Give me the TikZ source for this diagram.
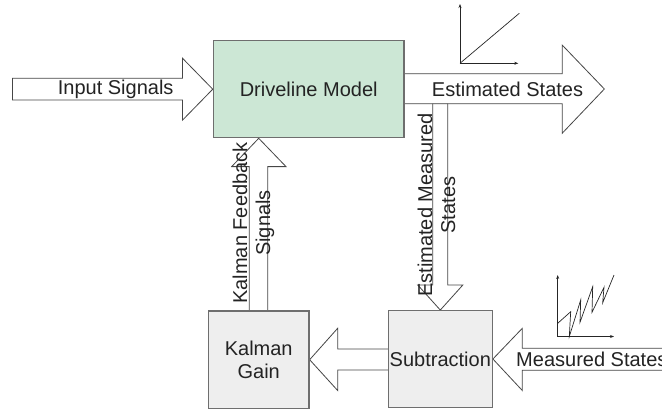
\documentclass[tikz,border=0pt]{standalone}
\usepackage{fontspec}
\setmainfont{Liberation Sans}
\usetikzlibrary{calc,arrows.meta}
\definecolor{drvfill}{RGB}{204,231,213}
\definecolor{boxfill}{RGB}{238,238,238}
\definecolor{boxline}{RGB}{110,110,110}
\definecolor{arrline}{RGB}{70,70,70}
\definecolor{txt}{RGB}{35,35,35}
\begin{document}
\begin{tikzpicture}[x=1pt,y=-1pt,
  every node/.style={font=\fontsize{20}{23}\selectfont, text=txt},
  block/.style={draw=boxline, line width=1.2pt, inner sep=0pt, align=center},
  barrow/.style={draw=arrline, fill=white, line width=0.8pt, line join=miter},
  axis/.style={draw=black!85, line width=0.7pt, -{Stealth[length=4pt,width=3pt]}},
  curve/.style={draw=black!85, line width=0.7pt}]
\useasboundingbox (0,0) rectangle (662,410);

% boxes (positions used by the block arrows)
\path (308.7,89.2) node[block, fill=drvfill, minimum width=190.7pt, minimum height=97pt] (drive) {};
\path (258.7,359.7) node[block, fill=boxfill, minimum width=100.7pt, minimum height=97.3pt] (kal) {};
\path (440.3,359) node[block, fill=boxfill, minimum width=104pt, minimum height=96.7pt] (sub) {};

% block arrows
\draw[barrow] (sub.north) -- ++(22.5,-25) -- ++(-15,0) -- ++(0,-182) -- ++(-15,0) -- ++(0,182) -- ++(-15,0) -- cycle;
\draw[barrow] (drive.west) -- ++(-30.3,-31) -- ++(0,20) -- ++(-170,0) -- ++(0,21.7) -- ++(170,0) -- ++(0,20.3) -- cycle;
\draw[barrow] ($(drive.east)+(0,-15.5)$) -- ++(157.5,0) -- ++(0,-28.7) -- ++(42.2,44) -- ++(-42.2,44.3) -- ++(0,-29.6) -- ++(-157.5,0);
\draw[barrow] (kal.north |- drive.south) -- ++(27.3,28.3) -- ++(-18.3,0) -- ++(0,145) -- ++(-18.4,0) -- ++(0,-145) -- ++(-17.6,0) -- cycle;
\draw[barrow] (kal.east) -- ++(28,-31.4) -- ++(0,20.7) -- ++(51.3,0) -- ++(0,21) -- ++(-51.3,0) -- ++(0,20.5) -- cycle;
\draw[barrow] (sub.east) -- ++(29.4,-30.7) -- ++(0,20) -- ++(150,0) -- ++(0,22) -- ++(-150,0) -- ++(0,20.2) -- cycle;

% redraw boxes on top
\node[block, fill=drvfill, minimum width=190.7pt, minimum height=97pt] at (drive.center) {Driveline Model};
\node[block, fill=boxfill, minimum width=100.7pt, minimum height=97.3pt] at (kal.center) {Kalman\\Gain};
\node[block, fill=boxfill, minimum width=104pt, minimum height=96.7pt] at (sub.center) {Subtraction};

% arrow labels
\node (lin) at (115.7,89) {Input Signals};
\node (lest) at (507.5,89) {Estimated States};
\node[anchor=west] (lmeas) at (512.7,359) {Measured States};
\node[rotate=90, align=center] (lfb) at (253.5,223) {Kalman Feedback\\Signals};
\node[rotate=90, align=center] (lem) at (436.5,205) {Estimated Measured\\States};

% small graph: linear
\coordinate (g1) at (460,63.3);
\draw[axis] (g1) -- (460,4);
\draw[axis] (g1) -- (518.3,63.3);
\draw[curve] (g1) -- (519.3,13.3);

% small graph: sawtooth
\coordinate (g2) at (557.7,336.5);
\draw[axis] (g2) -- (557.7,275);
\draw[axis] (g2) -- (614,336.5);
\draw[curve] (557.7,323.3) -- (570.7,311.7) -- (569.3,336.5) -- (580.7,300) -- (580,322.3) -- (592.7,286.7) -- (592,312.3) -- (604,287.3) -- (602.7,302.7) -- (614,275);
\end{tikzpicture}
\end{document}
